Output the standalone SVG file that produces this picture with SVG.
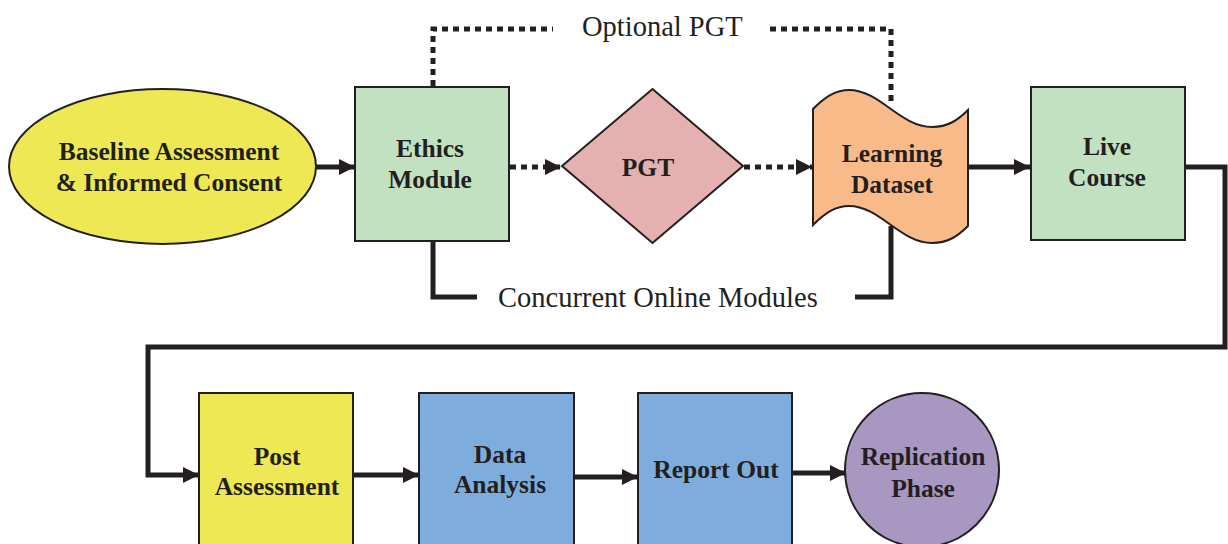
<svg xmlns="http://www.w3.org/2000/svg" width="1228" height="544" viewBox="0 0 1228 544">
  <style>
    .node { stroke: #231F20; stroke-width: 2; }
    .label { font-family: "Liberation Serif", "Times New Roman", serif; font-weight: bold; font-size: 25.5px; fill: #231F20; text-anchor: middle; }
    .note { font-family: "Liberation Serif", "Times New Roman", serif; font-size: 28.5px; fill: #231F20; }
    .solid { fill: none; stroke: #231F20; stroke-width: 5; }
    .dotted { fill: none; stroke: #231F20; stroke-width: 5; stroke-dasharray: 6 5; }
  </style>
  <defs>
    <marker id="head" viewBox="0 0 10 10" refX="10" refY="5" markerUnits="userSpaceOnUse" markerWidth="17" markerHeight="16" orient="auto">
      <path d="M0,0 L10,5 L0,10 Z" fill="#231F20"/>
    </marker>
  </defs>

  <rect width="1228" height="544" fill="#FFFFFF"/>

  <!-- connectors -->
  <g id="connectors">
    <line class="solid" x1="316" y1="167" x2="355" y2="167" marker-end="url(#head)"/>
    <line class="dotted" x1="510" y1="167" x2="561" y2="167" marker-end="url(#head)"/>
    <line class="dotted" x1="744" y1="167" x2="812" y2="167" marker-end="url(#head)"/>
    <line class="solid" x1="968" y1="167" x2="1030" y2="167" marker-end="url(#head)"/>
    <polyline class="dotted" points="433,86 433,29 553,29"/>
    <polyline class="dotted" points="770,29 891,29 891,106"/>
    <polyline class="solid" points="433,242 433,297 477,297"/>
    <polyline class="solid" points="855,297 891,297 891,226"/>
    <polyline class="solid" points="1186,167 1225,167 1225,347 148,347 148,475 199,475" marker-end="url(#head)"/>
    <line class="solid" x1="354" y1="475" x2="419" y2="475" marker-end="url(#head)"/>
    <line class="solid" x1="575" y1="477" x2="638" y2="477" marker-end="url(#head)"/>
    <line class="solid" x1="793" y1="473" x2="846" y2="473" marker-end="url(#head)"/>
  </g>

  <!-- side notes -->
  <text class="note" x="582" y="36">Optional PGT</text>
  <text class="note" x="498" y="307">Concurrent Online Modules</text>

  <g id="baseline">
    <ellipse class="node" cx="162.5" cy="166.5" rx="153.5" ry="77.5" fill="#EEE854"/>
    <text class="label" x="169" y="160">Baseline Assessment</text>
    <text class="label" x="169" y="191">&amp; Informed Consent</text>
  </g>

  <g id="ethics">
    <rect class="node" x="355" y="87" width="154" height="154" fill="#C2E1C1"/>
    <text class="label" x="430" y="157">Ethics</text>
    <text class="label" x="430" y="188">Module</text>
  </g>

  <g id="pgt">
    <polygon class="node" points="562,166 652.5,89 743,166 652.5,243" fill="#E4B1B0"/>
    <text class="label" x="648" y="176">PGT</text>
  </g>

  <g id="learning-dataset">
    <path class="node" d="M813,109 C826,96 836,90 849,90 C880,90 900,127 932,127 C948,127 958,120 968,110 L968,226 C958,236 948,243 932,243 C900,243 880,206 849,206 C836,206 826,212 813,225 Z" fill="#F9BA8A"/>
    <text class="label" x="892" y="162">Learning</text>
    <text class="label" x="892" y="193">Dataset</text>
  </g>

  <g id="live-course">
    <rect class="node" x="1031" y="87" width="154" height="153" fill="#C2E1C1"/>
    <text class="label" x="1107" y="155">Live</text>
    <text class="label" x="1107" y="186">Course</text>
  </g>

  <g id="post-assessment">
    <rect class="node" x="199" y="393" width="154" height="160" fill="#EEE854"/>
    <text class="label" x="277" y="465">Post</text>
    <text class="label" x="277" y="495">Assessment</text>
  </g>

  <g id="data-analysis">
    <rect class="node" x="419" y="393" width="155" height="160" fill="#7EADDD"/>
    <text class="label" x="500" y="463">Data</text>
    <text class="label" x="500" y="493">Analysis</text>
  </g>

  <g id="report-out">
    <rect class="node" x="638" y="393" width="154" height="160" fill="#7EADDD"/>
    <text class="label" x="716" y="478">Report Out</text>
  </g>

  <g id="replication">
    <circle class="node" cx="922" cy="470" r="77" fill="#A797C1"/>
    <text class="label" x="923" y="465">Replication</text>
    <text class="label" x="923" y="497">Phase</text>
  </g>
</svg>
